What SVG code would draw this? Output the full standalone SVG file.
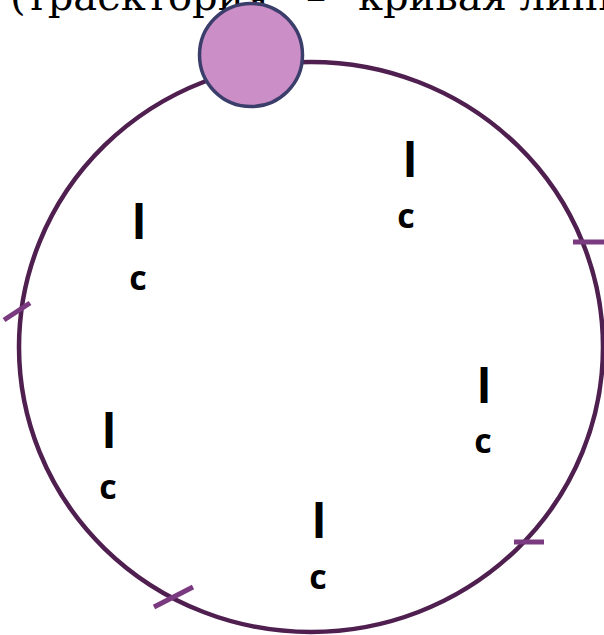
<svg xmlns="http://www.w3.org/2000/svg" width="604" height="635" viewBox="0 0 604 635">
<style>
.orbit{fill:none;stroke:#4f1f50;stroke-width:4.5}
.tick{stroke:#7a3a80;stroke-width:5;fill:none}
.body{fill:#cb8ec6;stroke:#3b3d6b;stroke-width:3.5}
.l{font-family:"Open Sans","DejaVu Sans",sans-serif;font-weight:bold;font-size:46px;fill:#000;text-anchor:middle}
.c{font-family:"Open Sans","DejaVu Sans",sans-serif;font-weight:bold;font-size:34px;fill:#000;text-anchor:middle}
.title{font-family:"DejaVu Serif",serif;font-size:40px;fill:#000}
</style>
<rect width="604" height="635" fill="#fff"/>
<text class="title" y="10"><tspan x="10">(траектория</tspan><tspan x="306">–</tspan><tspan x="358">кривая линия)</tspan></text>
<g id="connectors">
<ellipse class="orbit" cx="311" cy="347" rx="292" ry="285"/>
<line class="tick" x1="4" y1="320" x2="30" y2="303"/>
<line class="tick" x1="573" y1="242" x2="604" y2="242"/>
<line class="tick" x1="514" y1="542" x2="544" y2="542"/>
<line class="tick" x1="154" y1="607" x2="193" y2="587"/>
</g>
<g id="body"><circle class="body" cx="251" cy="55" r="51.5"/></g>
<g id="label1"><text class="l" x="410" y="177">l</text><text class="c" x="406" y="228">c</text></g>
<g id="label2"><text class="l" x="139" y="239">l</text><text class="c" x="138" y="290">c</text></g>
<g id="label3"><text class="l" x="484" y="403">l</text><text class="c" x="483" y="453">c</text></g>
<g id="label4"><text class="l" x="109" y="448">l</text><text class="c" x="108" y="499">c</text></g>
<g id="label5"><text class="l" x="319" y="538">l</text><text class="c" x="318" y="589">c</text></g>
</svg>
